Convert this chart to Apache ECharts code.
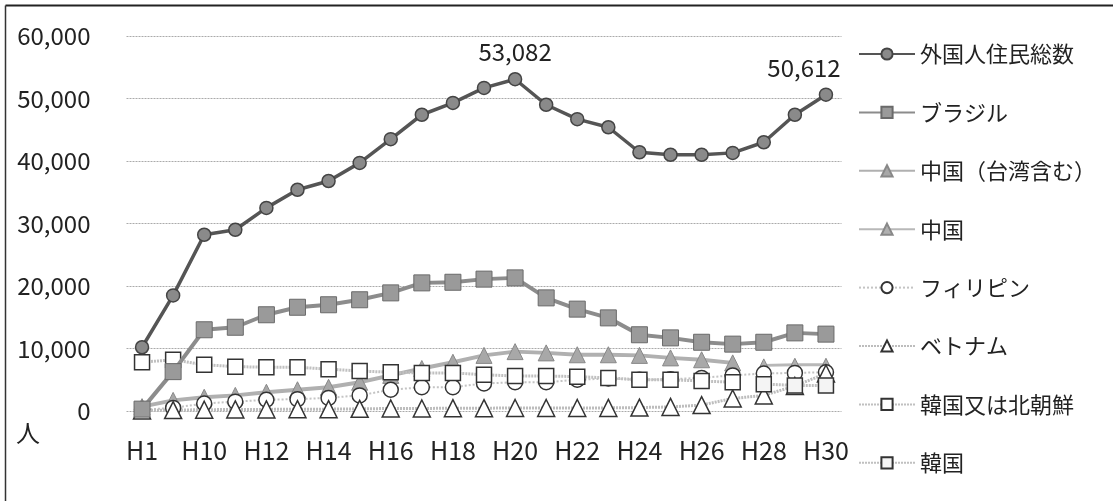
<!DOCTYPE html>
<html>
<head>
<meta charset="utf-8">
<script src="https://cdn.jsdelivr.net/npm/echarts@6/dist/echarts.min.js"></script>
<style>
  html, body { margin: 0; padding: 0; background: #fff; }
  #chart { width: 1113px; height: 501px; }
</style>
</head>
<body>
<div id="chart"></div>
<script>
const years = ['H1', 'H5', 'H10', 'H11', 'H12', 'H13', 'H14', 'H15', 'H16', 'H17', 'H18', 'H19',
  'H20', 'H21', 'H22', 'H23', 'H24', 'H25', 'H26', 'H27', 'H28', 'H29', 'H30']

const total = [10200, 18500, 28200, 29000, 32500, 35400, 36800, 39700, 43500, 47400, 49300, 51700,
  53082, 49000, 46700, 45400, 41400, 41000, 41000, 41300, 43000, 47400, 50612]
const brazil = [300, 6300, 13000, 13400, 15400, 16600, 17000, 17800, 18900, 20500, 20600, 21100,
  21300, 18100, 16300, 14900, 12200, 11700, 11000, 10700, 11000, 12500, 12300]
const chinaTw = [700, 1700, 2200, 2500, 3000, 3400, 3800, 4600, 5700, 6800, 7800, 8900,
  9500, 9300, 9000, 9000, 8900, 8500, 8200, 7700, null, null, null]
const china = [null, null, null, null, null, null, null, null, null, null, null, null,
  null, null, null, null, null, null, null, null, 7300, 7400, 7400]
const philippines = [200, 500, 1200, 1500, 1800, 1900, 2100, 2500, 3400, 3800, 3800, 4400,
  4600, 4600, 5000, 5200, 5000, 5100, 5300, 5700, 6000, 6100, 6200]
const vietnam = [100, 150, 200, 250, 250, 300, 300, 350, 400, 400, 450, 450,
  480, 480, 480, 500, 550, 650, 950, 2000, 2500, 4000, 6000]
const koreaNk = [7800, 8200, 7400, 7100, 7000, 7000, 6700, 6400, 6200, 6100, 6100, 5800,
  5600, 5600, 5500, 5300, 5000, 5000, 4800, 4600, null, null, null]
const korea = [null, null, null, null, null, null, null, null, null, null, null, null,
  null, null, null, null, null, null, null, null, 4300, 4100, 4100]

// 数値ラベルを付ける点
const labelled = { 12: [0, 0], 22: [-22, 0] }

const fmt = v => Number(v).toLocaleString('en-US')
const font = "'Noto Sans CJK JP', 'Noto Sans', sans-serif"

const chart = echarts.init(document.getElementById('chart'))

function mk(name, data, opt) {
  return Object.assign({
    name: name,
    type: 'line',
    data: data,
    connectNulls: false,
    animation: false
  }, opt)
}

chart.setOption({
  backgroundColor: '#fff',
  textStyle: { fontFamily: font },
  grid: { left: 126.5, right: 271.5, top: 36, bottom: 90 },
  legend: {
    orient: 'vertical',
    left: 853,
    top: 38,
    itemWidth: 56,
    itemHeight: 14,
    itemGap: 36.4,
    textStyle: { fontSize: 22, color: '#222', fontFamily: font }
  },
  xAxis: {
    type: 'category',
    data: years,
    axisLine: { show: false },
    axisTick: { show: false },
    axisLabel: { interval: 1, fontSize: 25, color: '#222', margin: 27, fontFamily: font }
  },
  yAxis: {
    type: 'value',
    min: 0,
    max: 60000,
    interval: 10000,
    axisLabel: { fontSize: 24, color: '#222', margin: 36, formatter: fmt, fontFamily: font },
    splitLine: { lineStyle: { color: '#aaa', type: [2, 1], width: 1 } }
  },
  graphic: [
    { type: 'text', left: 16, top: 421, style: { text: '人', fontSize: 24, fill: '#222', fontFamily: font } },
    { type: 'line', shape: { x1: 5.5, y1: 5.5, x2: 1113, y2: 5.5 }, style: { stroke: '#222', lineWidth: 2 } },
    { type: 'line', shape: { x1: 5.5, y1: 5.5, x2: 5.5, y2: 501 }, style: { stroke: '#333', lineWidth: 1.5 } }
  ],
  series: [
    mk('外国人住民総数', total.map((v, i) => labelled[i] ? {
      value: v,
      label: {
        show: true, position: 'top', distance: 8, offset: labelled[i],
        formatter: p => fmt(p.value), fontSize: 24, color: '#222', fontFamily: font
      }
    } : v), {
      z: 10,
      symbol: 'circle', symbolSize: 13,
      lineStyle: { color: '#555', width: 3.5 },
      itemStyle: { color: '#8a8a8a', borderColor: '#444', borderWidth: 1.5 }
    }),
    mk('ブラジル', brazil, {
      z: 9,
      symbol: 'rect', symbolSize: 16,
      lineStyle: { color: '#8c8c8c', width: 4 },
      itemStyle: { color: '#9a9a9a', borderColor: '#6a6a6a', borderWidth: 1 }
    }),
    mk('中国（台湾含む）', chinaTw, {
      z: 5,
      symbol: 'triangle', symbolSize: 16,
      lineStyle: { color: '#b0b0b0', width: 4 },
      itemStyle: { color: '#a8a8a8', borderColor: '#888', borderWidth: 1 }
    }),
    mk('中国', china, {
      z: 5,
      symbol: 'triangle', symbolSize: 13,
      lineStyle: { color: '#b8b8b8', width: 3 },
      itemStyle: { color: '#b0b0b0', borderColor: '#888', borderWidth: 1 }
    }),
    mk('フィリピン', philippines, {
      z: 6,
      symbol: 'circle', symbolSize: 15,
      lineStyle: { color: '#c4c4c4', width: 2, type: [2, 2] },
      itemStyle: { color: '#fff', borderColor: '#333', borderWidth: 1.5 }
    }),
    mk('ベトナム', vietnam, {
      z: 6,
      symbol: 'triangle', symbolSize: 17,
      lineStyle: { color: '#bdbdbd', width: 3, type: [2, 1] },
      itemStyle: { color: '#fff', borderColor: '#333', borderWidth: 1.5 }
    }),
    mk('韓国又は北朝鮮', koreaNk, {
      z: 7,
      symbol: 'rect', symbolSize: 15,
      lineStyle: { color: '#c0c0c0', width: 3, type: [2, 1] },
      itemStyle: { color: '#fff', borderColor: '#333', borderWidth: 1.5 }
    }),
    mk('韓国', korea, {
      z: 7,
      symbol: 'rect', symbolSize: 15,
      lineStyle: { color: '#c0c0c0', width: 3, type: [2, 1] },
      itemStyle: { color: '#f4f4f4', borderColor: '#333', borderWidth: 1.5 }
    })
  ]
})
</script>
</body>
</html>
